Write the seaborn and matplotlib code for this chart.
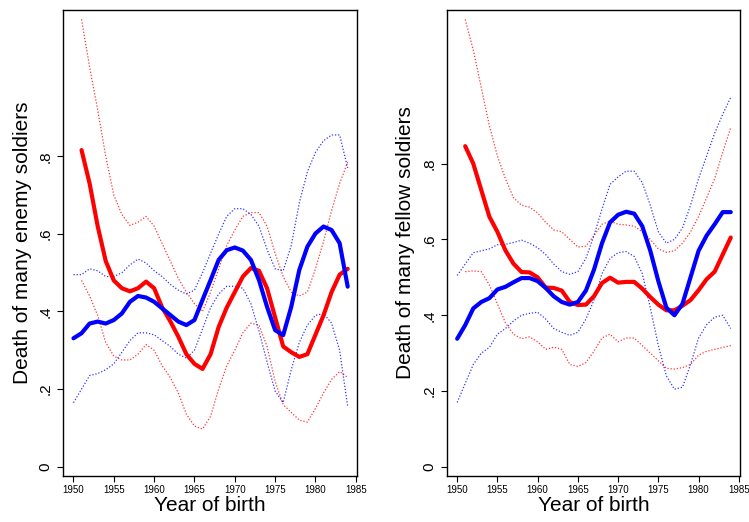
import matplotlib.pyplot as plt
import seaborn as sns
import numpy as np

# years of birth
years_blue = list(range(1950, 1985))
years_red = list(range(1951, 1985))

# panel 1: death of many enemy soldiers
enemy_red = [0.816, 0.73, 0.62, 0.53, 0.48, 0.46, 0.452, 0.46, 0.477, 0.46,
             0.41, 0.375, 0.335, 0.29, 0.265, 0.252, 0.29, 0.36, 0.41, 0.45,
             0.49, 0.512, 0.505, 0.46, 0.385, 0.31, 0.295, 0.283, 0.29, 0.34,
             0.39, 0.45, 0.495, 0.51]
enemy_red_hi = [1.153, 1.03, 0.92, 0.8, 0.7, 0.65, 0.622, 0.63, 0.645, 0.62,
                0.575, 0.53, 0.485, 0.45, 0.42, 0.40, 0.45, 0.51, 0.57, 0.61,
                0.645, 0.655, 0.655, 0.62, 0.55, 0.49, 0.45, 0.44, 0.45, 0.51,
                0.58, 0.66, 0.73, 0.785]
enemy_red_lo = [0.48, 0.44, 0.39, 0.32, 0.285, 0.275, 0.275, 0.29, 0.315, 0.3,
                0.26, 0.23, 0.19, 0.135, 0.105, 0.097, 0.13, 0.2, 0.26, 0.3,
                0.345, 0.37, 0.365, 0.31, 0.22, 0.16, 0.14, 0.12, 0.115, 0.15,
                0.19, 0.225, 0.245, 0.23]
enemy_blue = [0.331, 0.344, 0.369, 0.374, 0.369, 0.378, 0.395, 0.425, 0.44, 0.436,
              0.425, 0.408, 0.391, 0.374, 0.365, 0.378, 0.43, 0.481, 0.533, 0.558,
              0.565, 0.557, 0.533, 0.481, 0.412, 0.352, 0.339, 0.412, 0.507, 0.567,
              0.601, 0.619, 0.61, 0.576, 0.464]
enemy_blue_hi = [0.495, 0.495, 0.51, 0.505, 0.49, 0.49, 0.5, 0.52, 0.535, 0.525,
                 0.505, 0.49, 0.47, 0.455, 0.445, 0.455, 0.5, 0.55, 0.6, 0.645,
                 0.665, 0.665, 0.65, 0.62, 0.56, 0.51, 0.505, 0.57, 0.68, 0.76,
                 0.81, 0.84, 0.855, 0.855, 0.77]
enemy_blue_lo = [0.165, 0.2, 0.235, 0.24, 0.25, 0.265, 0.295, 0.325, 0.345, 0.345,
                 0.34, 0.325, 0.31, 0.29, 0.28, 0.3, 0.355, 0.41, 0.445, 0.465,
                 0.465, 0.46, 0.42, 0.35, 0.27, 0.195, 0.165, 0.25, 0.32, 0.365,
                 0.39, 0.395, 0.37, 0.3, 0.155]

# panel 2: death of many fellow soldiers
fellow_red = [0.846, 0.80, 0.73, 0.66, 0.62, 0.571, 0.536, 0.514, 0.513, 0.50,
              0.473, 0.472, 0.465, 0.435, 0.427, 0.428, 0.45, 0.485, 0.499, 0.486,
              0.488, 0.488, 0.47, 0.448, 0.428, 0.413, 0.413, 0.425, 0.44, 0.466,
              0.495, 0.515, 0.56, 0.605]
fellow_red_hi = [1.18, 1.1, 1.0, 0.9, 0.82, 0.76, 0.71, 0.69, 0.685, 0.67,
                 0.645, 0.625, 0.62, 0.6, 0.58, 0.582, 0.61, 0.64, 0.648, 0.64,
                 0.638, 0.635, 0.62, 0.6, 0.575, 0.566, 0.57, 0.59, 0.62, 0.66,
                 0.71, 0.76, 0.83, 0.895]
fellow_red_lo = [0.515, 0.517, 0.515, 0.48, 0.43, 0.38, 0.35, 0.338, 0.343, 0.33,
                 0.31, 0.316, 0.31, 0.27, 0.265, 0.275, 0.305, 0.34, 0.35, 0.33,
                 0.34, 0.34, 0.32, 0.3, 0.28, 0.26, 0.258, 0.262, 0.27, 0.295,
                 0.305, 0.31, 0.315, 0.32]
fellow_blue = [0.338, 0.374, 0.418, 0.435, 0.445, 0.468, 0.475, 0.487, 0.498, 0.498,
               0.49, 0.472, 0.45, 0.435, 0.428, 0.435, 0.465, 0.52, 0.59, 0.645,
               0.665, 0.673, 0.668, 0.635, 0.57, 0.49, 0.42, 0.4, 0.43, 0.5,
               0.57, 0.61, 0.64, 0.672, 0.672]
fellow_blue_hi = [0.505, 0.535, 0.565, 0.57, 0.575, 0.586, 0.587, 0.592, 0.598, 0.59,
                  0.578, 0.56, 0.535, 0.515, 0.508, 0.515, 0.55, 0.61, 0.68, 0.745,
                  0.765, 0.78, 0.78, 0.75, 0.69, 0.62, 0.59, 0.6, 0.63, 0.69,
                  0.76, 0.82, 0.88, 0.93, 0.975]
fellow_blue_lo = [0.17, 0.22, 0.27, 0.3, 0.315, 0.35, 0.365, 0.385, 0.4, 0.405,
                  0.408, 0.39, 0.365, 0.355, 0.347, 0.355, 0.39, 0.44, 0.51, 0.55,
                  0.565, 0.568, 0.555, 0.51, 0.42, 0.32, 0.24, 0.205, 0.21, 0.27,
                  0.34, 0.375, 0.395, 0.4, 0.365]

yticks = [0, 0.2, 0.4, 0.6, 0.8]
ytick_labels = ["0", ".2", ".4", ".6", ".8"]
xticks = list(range(1950, 1990, 5))

sns.set_style("white")
plt.rcParams['font.family'] = ['Liberation Sans', 'DejaVu Sans']
plt.rcParams['text.color'] = 'black'
plt.rcParams['axes.labelcolor'] = 'black'

fig = plt.figure(figsize=(7.49, 5.22), dpi=100)
ax1 = fig.add_axes([0.0841, 0.0881, 0.3925, 0.8927])
ax2 = fig.add_axes([0.5964, 0.0881, 0.3916, 0.8927])

panels = [
    (ax1, enemy_red, enemy_red_hi, enemy_red_lo, enemy_blue, enemy_blue_hi, enemy_blue_lo,
     "Death of many enemy soldiers", 1.177),
    (ax2, fellow_red, fellow_red_hi, fellow_red_lo, fellow_blue, fellow_blue_hi, fellow_blue_lo,
     "Death of many fellow soldiers", 1.205),
]

for ax, r, rhi, rlo, b, bhi, blo, label, ytop in panels:
    for vals in (rhi, rlo):
        sns.lineplot(x=years_red, y=vals, ax=ax, color='red', lw=0.9,
                     linestyle=(0, (1, 1.5)), alpha=0.8)
    for vals in (bhi, blo):
        sns.lineplot(x=years_blue, y=vals, ax=ax, color='blue', lw=0.9,
                     linestyle=(0, (1, 1.5)), alpha=0.8)
    sns.lineplot(x=years_red, y=r, ax=ax, color='red', lw=3)
    sns.lineplot(x=years_blue, y=b, ax=ax, color='blue', lw=3)

    ax.set_xlim(1948.7, 1985.15)
    ax.set_ylim(-0.024, ytop)
    ax.set_xticks(xticks)
    ax.set_xticklabels([str(t) for t in xticks], fontsize=7)
    ax.set_yticks(yticks)
    ax.set_yticklabels(ytick_labels, fontsize=11, rotation=90, va='center')
    ax.tick_params(axis='both', which='major', bottom=True, left=True,
                   direction='out', length=4.5, width=0.8, color='black',
                   labelcolor='black')
    ax.tick_params(axis='y', pad=3)
    ax.tick_params(axis='x', pad=2)
    ax.set_xlabel("Year of birth", fontsize=15, labelpad=1)
    ax.set_ylabel(label, fontsize=15, labelpad=5)
    for sp in ax.spines.values():
        sp.set_color('black')
        sp.set_linewidth(1)

fig.savefig("out.png", dpi=100)
